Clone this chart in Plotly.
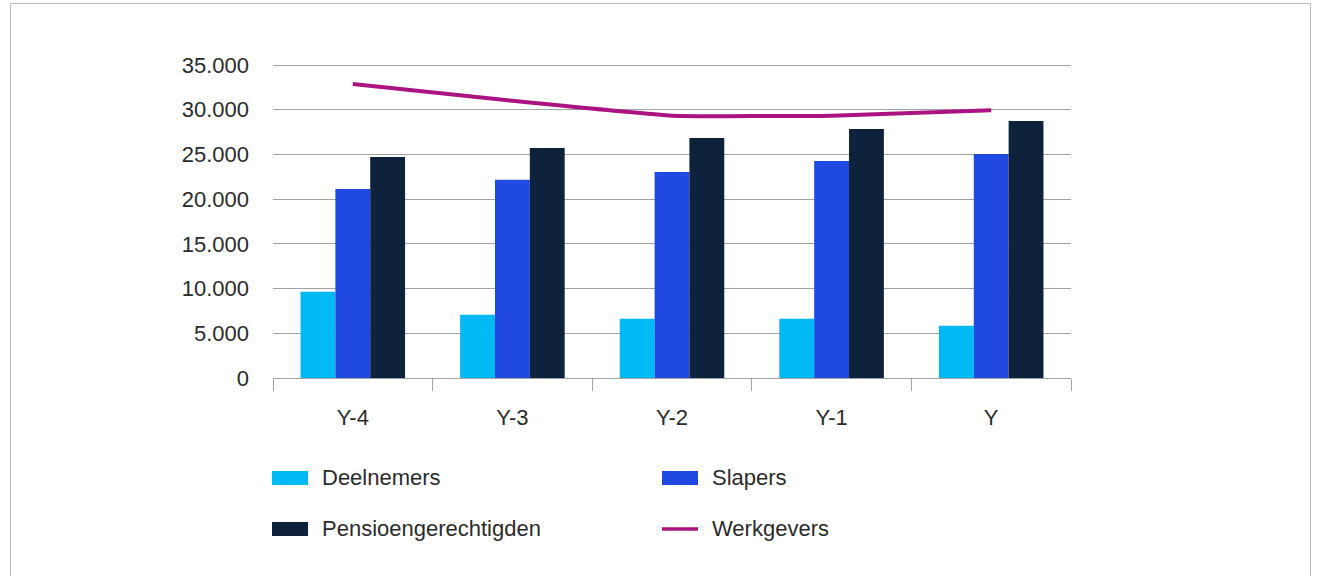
import plotly.graph_objects as go

# Jaren en aantallen per groep
jaren = ["Y-4", "Y-3", "Y-2", "Y-1", "Y"]
deelnemers = [9640, 7070, 6630, 6630, 5840]
slapers = [21150, 22160, 23050, 24280, 25060]
pensioengerechtigden = [24730, 25730, 26850, 27860, 28750]
werkgevers = [32880, 31000, 29340, 29340, 29940]
y_ticks = [0, 5000, 10000, 15000, 20000, 25000, 30000, 35000]

kleuren = {
    "Deelnemers": "#00B9F5",
    "Slapers": "#1F49E0",
    "Pensioengerechtigden": "#0E223B",
    "Werkgevers": "#AB1382",
}

W, H = 1326, 576
L, R, T, B = 273, 255, 64, 198
PW, PH = W - L - R, H - T - B
FONT = "Liberation Sans, Arial, sans-serif"
TXT = "#2b2b2b"
GRID = "#a3a3a3"


def px(x):
    return (x - L) / PW


def py(y):
    return (H - B - y) / PH


fig = go.Figure()
for naam, waarden in [("Deelnemers", deelnemers), ("Slapers", slapers),
                      ("Pensioengerechtigden", pensioengerechtigden)]:
    fig.add_trace(go.Bar(name=naam, x=jaren, y=waarden,
                         marker=dict(color=kleuren[naam], line=dict(width=0))))
fig.add_trace(go.Scatter(name="Werkgevers", x=jaren, y=werkgevers, mode="lines",
                         line=dict(color=kleuren["Werkgevers"], width=4,
                                   shape="spline", smoothing=0.35)))

# Legenda in twee kolommen
shapes = []
annotations = []
items = [("Deelnemers", 272, 478, "bar"), ("Slapers", 662, 478, "bar"),
         ("Pensioengerechtigden", 272, 529, "bar"), ("Werkgevers", 662, 529, "line")]
for naam, x0, yc, soort in items:
    if soort == "bar":
        shapes.append(dict(type="rect", xref="paper", yref="paper",
                           x0=px(x0), x1=px(x0 + 36), y0=py(yc - 7), y1=py(yc + 7),
                           fillcolor=kleuren[naam], line=dict(width=0)))
    else:
        shapes.append(dict(type="line", xref="paper", yref="paper",
                           x0=px(x0), x1=px(x0 + 36), y0=py(yc), y1=py(yc),
                           line=dict(color=kleuren[naam], width=3.5)))
    annotations.append(dict(text=naam, xref="paper", yref="paper",
                            x=px(x0 + 48), y=py(yc - 1), xanchor="left", yanchor="middle",
                            showarrow=False, font=dict(family=FONT, size=22, color=TXT)))

# Kader rond de grafiek
shapes.append(dict(type="rect", xref="paper", yref="paper",
                   x0=px(10.5), x1=px(1310.5), y0=py(3.5), y1=py(600),
                   line=dict(color="#bdbdbd", width=1), fillcolor="rgba(0,0,0,0)",
                   layer="below"))

fig.update_layout(
    width=W, height=H,
    margin=dict(l=L, r=R, t=T, b=B),
    paper_bgcolor="white", plot_bgcolor="white",
    barmode="group", bargap=0.345, bargroupgap=0,
    showlegend=False,
    separators=",.",
    font=dict(family=FONT, size=22, color=TXT),
    shapes=shapes, annotations=annotations,
)
fig.update_xaxes(
    type="category", showgrid=False,
    showline=True, linecolor=GRID, linewidth=1,
    ticks="outside", tickson="boundaries", ticklen=12, tickcolor=GRID, tickwidth=1,
    tickfont=dict(family=FONT, size=22, color=TXT),
    ticklabelstandoff=20,
)
fig.update_yaxes(
    range=[0, 35120], tickvals=y_ticks, tickformat=",d",
    showgrid=True, gridcolor=GRID, gridwidth=1,
    zeroline=False, showline=False,
    tickfont=dict(family=FONT, size=22, color=TXT),
    ticklabelstandoff=23,
)

fig.write_html("out.html")
